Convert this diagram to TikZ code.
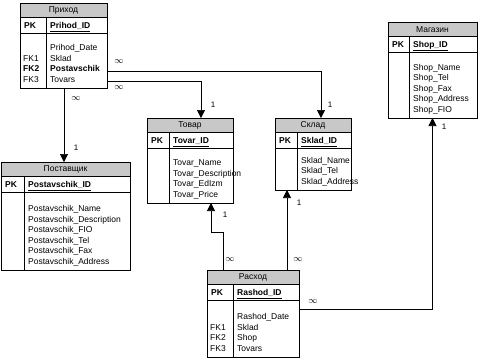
\documentclass[tikz,border=0pt]{standalone}
\usepackage{fontspec}
\setmainfont{Liberation Sans}
\usetikzlibrary{arrows.meta}
\definecolor{hdrgray}{RGB}{200,200,200}

\tikzset{
  tblbox/.style={draw=black, line width=0.8pt, inner sep=0pt, outer sep=0pt},
  tblrule/.style={draw=black, line width=0.8pt},
  hdrfill/.style={fill=hdrgray},
  ttl/.style={inner sep=0pt, font=\fontsize{8.5}{10.5}\selectfont},
  keytxt/.style={inner sep=0pt, anchor=base west, font=\fontsize{8.5}{10.5}\selectfont\bfseries},
  fld/.style={inner sep=0pt, anchor=base west, font=\fontsize{8.5}{10.5}\selectfont},
  rel/.style={draw=black, line width=0.7pt},
  relarrow/.style={rel, -{Triangle[width=8pt,length=8pt]}},
  card/.style={inner sep=0pt, font=\fontsize{8}{9}\selectfont},
  many/.style={inner sep=0pt, font=\fontsize{9}{10}\selectfont}
}

% table: name, left, top, right, bottom, key column, title, key
\newcommand{\erdtable}[8]{%
  \path[hdrfill] (#2,#3) rectangle (#4,#3+14.5);
  \node[tblbox, minimum width=#4-#2, minimum height=#5-#3] (#1) at ({(#2+#4)/2},{(#3+#5)/2}) {};
  \path[tblrule] (#2,#3+14.5) -- (#4,#3+14.5) (#2,#3+30) -- (#4,#3+30) (#6,#3+14.5) -- (#6,#5);
  \node[ttl] (#1-title) at ({(#2+#4)/2},#3+7.5) {#7};
  \node[keytxt] (#1-pk) at (#2+4,#3+25.5) {PK};
  \node[keytxt] (#1-key) at (#6+4,#3+25.5) {\underline{#8}};
}

\begin{document}
\begin{tikzpicture}[x=1pt,y=-1pt]
\useasboundingbox (0,0) rectangle (480,360);
% tables:
\erdtable{prihod}{20}{3}{107}{88}{46}{Приход}{Prihod\_ID}
\foreach \k/\f [count=\i from 0] in {/Prihod\_Date, FK1/Sklad, \textbf{FK2}/\textbf{Postavschik}, FK3/Tovars}
{
  \node[fld] (prihod-k\i) at (23,50.5+\i*10.5) {\k};
  \node[fld] (prihod-f\i) at (50,50.5+\i*10.5) {\f};
}
\erdtable{postav}{1}{162}{130}{270}{24}{Поставщик}{Postavschik\_ID}
\foreach \f [count=\i from 0] in {Postavschik\_Name, Postavschik\_Description, Postavschik\_FIO, Postavschik\_Tel, Postavschik\_Fax, Postavschik\_Address}
  \node[fld] (postav-f\i) at (28,211.5+\i*10.5) {\f};
\erdtable{tovar}{147}{118}{233}{203}{169}{Товар}{Tovar\_ID}
\foreach \f [count=\i from 0] in {Tovar\_Name, Tovar\_Description, Tovar\_EdIzm, Tovar\_Price}
  \node[fld] (tovar-f\i) at (173,165.5+\i*10.5) {\f};
\erdtable{sklad}{275}{118}{351}{190}{297}{Склад}{Sklad\_ID}
\foreach \f [count=\i from 0] in {Sklad\_Name, Sklad\_Tel, Sklad\_Address}
  \node[fld] (sklad-f\i) at (301,163+\i*10.5) {\f};
\erdtable{magazin}{388}{22}{477}{118}{409}{Магазин}{Shop\_ID}
\foreach \f [count=\i from 0] in {Shop\_Name, Shop\_Tel, Shop\_Fax, Shop\_Address, Shop\_FIO}
  \node[fld] (magazin-f\i) at (413,70+\i*10.5) {\f};
\erdtable{rashod}{207}{270}{299}{357}{233}{Расход}{Rashod\_ID}
\foreach \k/\f [count=\i from 0] in {/Rashod\_Date, FK1/Sklad, FK2/Shop, FK3/Tovars}
{
  \node[fld] (rashod-k\i) at (210,319.5+\i*10.5) {\k};
  \node[fld] (rashod-f\i) at (237,319.5+\i*10.5) {\f};
}
% relations:
\draw[relarrow] ([yshift=-35.5pt]prihod.east) -| ([xshift=11pt]tovar.north);
\draw[relarrow] ([yshift=-25.5pt]prihod.east) -| ([xshift=8pt]sklad.north);
\draw[relarrow] ([xshift=0.5pt]prihod.south) -- ([xshift=0.5pt]prihod.south |- postav.north);
\coordinate (rt-bend) at (223,232);
\draw[relarrow] ([xshift=-30pt]rashod.north) -- (rt-bend) -| ([xshift=21pt]tovar.south);
\draw[relarrow] ([xshift=34pt]rashod.north) -- ([xshift=-26pt]sklad.south);
\draw[relarrow] ([yshift=4.5pt]rashod.east) -| (magazin.south);
% cardinalities:
\node[many] (ps-m) at (119,62) {$\infty$};
\node[card] (ps-1) at (330,105) {1};
\node[many] (pt-m) at (119,88) {$\infty$};
\node[card] (pt-1) at (213,105) {1};
\node[many] (pp-m) at (76,99) {$\infty$};
\node[card] (pp-1) at (76,148) {1};
\node[many] (rt-m) at (230,260) {$\infty$};
\node[card] (rt-1) at (225,215) {1};
\node[many] (rs-m) at (298,260) {$\infty$};
\node[card] (rs-1) at (299,203) {1};
\node[many] (rm-m) at (313,302) {$\infty$};
\node[card] (rm-1) at (444,127) {1};
\end{tikzpicture}
\end{document}
